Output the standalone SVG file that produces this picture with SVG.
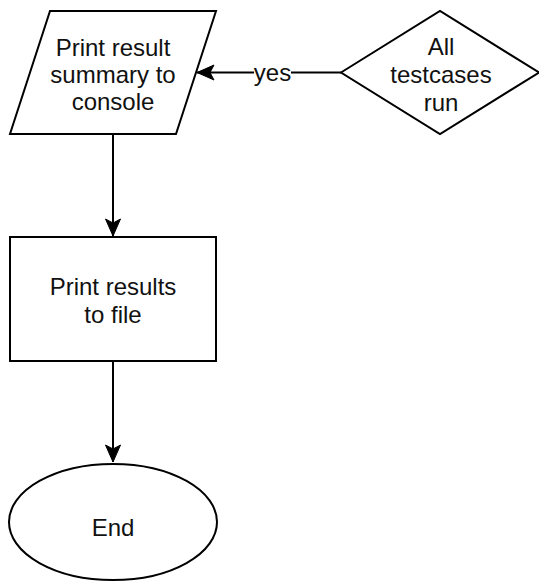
<svg xmlns="http://www.w3.org/2000/svg" width="539" height="582" viewBox="0 0 539 582">
<defs>
<style>
.shape{fill:#fff;stroke:#000;stroke-width:2}
.edge{fill:none;stroke:#000;stroke-width:2}
.t{font-family:"Liberation Sans",Arial,Helvetica,sans-serif;font-size:24px;fill:#111;text-anchor:middle}
</style>
<marker id="arr" markerUnits="userSpaceOnUse" markerWidth="20" markerHeight="18" viewBox="-18 -9 20 18" refX="0" refY="0" orient="auto">
<path d="M0,0 L-17,-7.5 L-13,0 L-17,7.5 Z" fill="#000" stroke="#000" stroke-width="1"/>
</marker>
</defs>
<rect width="539" height="582" fill="#fff"/>
<g id="connectors">
<path class="edge" d="M341,72.5 L197,72.5" marker-end="url(#arr)"/>
<rect x="254" y="60" width="37" height="26" fill="#fff"/>
<text class="t" x="272.5" y="81">yes</text>
<path class="edge" d="M113,134 L113,236" marker-end="url(#arr)"/>
<path class="edge" d="M113,361 L113,462" marker-end="url(#arr)"/>
</g>
<g id="print-summary">
<polygon class="shape" points="50,11 216,11 176,134 10,134"/>
<text class="t" x="113" y="56">Print result</text>
<text class="t" x="113" y="83">summary to</text>
<text class="t" x="113" y="110">console</text>
</g>
<g id="all-testcases-run">
<polygon class="shape" points="341,72.5 440,11 539,72.5 440,134"/>
<text class="t" x="441" y="55">All</text>
<text class="t" x="441" y="83">testcases</text>
<text class="t" x="441" y="111">run</text>
</g>
<g id="print-results-file">
<rect class="shape" x="10" y="237" width="206" height="124"/>
<text class="t" x="113" y="295">Print results</text>
<text class="t" x="113" y="323">to file</text>
</g>
<g id="end">
<ellipse class="shape" cx="113" cy="522" rx="104" ry="58"/>
<text class="t" x="113" y="536">End</text>
</g>
</svg>
